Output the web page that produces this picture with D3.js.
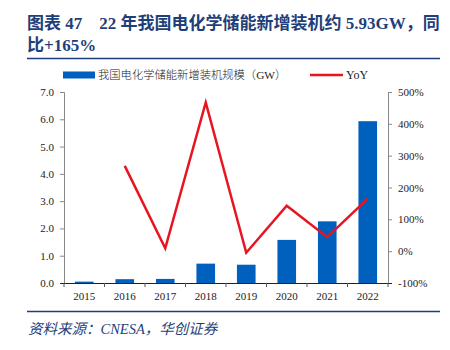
<!DOCTYPE html>
<html><head><meta charset="utf-8">
<script src="https://cdn.jsdelivr.net/npm/d3@7"></script>
<style>
html,body{margin:0;padding:0;background:#fff;}
svg{display:block;}
text{font-family:"Liberation Serif","Noto Sans CJK SC",serif;}
</style></head>
<body>
<svg id="c" width="450" height="350"></svg>
<script>
const years = ["2015","2016","2017","2018","2019","2020","2021","2022"];
const capacity = [0.05,0.14,0.15,0.71,0.67,1.58,2.26,5.93];
const yoy = [null,268,9,467,-5,143,44,165];
const leftTicks = [0,1,2,3,4,5,6,7];
const rightTicks = [-100,0,100,200,300,400,500];
const titleLines = ["图表 47\u00a0\u00a0\u00a0\u00a022 年我国电化学储能新增装机约 5.93GW，同","比+165%"];
const legendLabels = ["我国电化学储能新增装机规模（GW）","YoY"];
const sourceText = "资料来源：CNESA，华创证券";

const svg = d3.select("#c");
const navy = "#1f3f7a";
const barColor = "#0060bd";
const lineColor = "#e8141f";

// title
svg.selectAll("text.title").data(titleLines).enter().append("text")
  .attr("x",27).attr("y",(d,i)=>29+i*22)
  .attr("font-size",17).attr("font-weight","bold").attr("fill",navy)
  .attr("font-family","'Liberation Serif','Noto Sans CJK SC',serif")
  .text(d=>d);
svg.append("line").attr("x1",27).attr("x2",440).attr("y1",58.5).attr("y2",58.5)
  .attr("stroke",navy).attr("stroke-width",1.5);

const x = d3.scaleBand().domain(years).range([64,388]).paddingInner(0.54).paddingOuter(0.27);
const yL = d3.scaleLinear().domain([0,7]).range([283,92]);
const yR = d3.scaleLinear().domain([-100,500]).range([283,92]);

// bars
svg.selectAll("rect.bar").data(capacity).enter().append("rect")
  .attr("x",(d,i)=>x(years[i])).attr("width",x.bandwidth())
  .attr("y",d=>yL(d)).attr("height",d=>yL(0)-yL(d))
  .attr("fill",barColor);

// left axis
const axL = svg.append("g").attr("transform","translate(64,0)")
  .call(d3.axisLeft(yL).tickValues(leftTicks).tickFormat(d3.format(".1f")).tickSize(4).tickPadding(6));
axL.select(".domain").attr("stroke","#888");
axL.selectAll(".tick line").attr("stroke","#888");
axL.selectAll("text").attr("font-size",11).attr("fill","#222").attr("font-family","'Liberation Serif',serif");

// right axis
const axR = svg.append("g").attr("transform","translate(388,0)")
  .call(d3.axisRight(yR).tickValues(rightTicks).tickFormat(d=>d+"%").tickSize(4).tickPadding(6));
axR.select(".domain").attr("stroke","#888");
axR.selectAll(".tick line").attr("stroke","#888");
axR.selectAll("text").attr("font-size",11).attr("fill","#222").attr("font-family","'Liberation Serif',serif");

// bottom axis
const xb = svg.append("g").attr("transform","translate(0,283)")
  .call(d3.axisBottom(x).tickSize(0).tickPadding(9));
xb.select(".domain").attr("stroke","#222").attr("d","M60,0.5H392");
xb.selectAll("text").attr("font-size",11).attr("fill","#222").attr("font-family","'Liberation Serif',serif");
const step = x.step();
svg.selectAll("line.xt").data(d3.range(years.length+1)).enter().append("line")
  .attr("x1",i=>64+i*step).attr("x2",i=>64+i*step).attr("y1",283).attr("y2",287)
  .attr("stroke","#555");

// line
const pts = years.map((y,i)=>({y,v:yoy[i]})).filter(d=>d.v!==null);
svg.append("path").datum(pts)
  .attr("d",d3.line().x(d=>x(d.y)+x.bandwidth()/2).y(d=>yR(d.v)))
  .attr("fill","none").attr("stroke",lineColor).attr("stroke-width",2.5).attr("stroke-linejoin","miter");

// legend
svg.append("rect").attr("x",63).attr("y",71.5).attr("width",32).attr("height",7).attr("fill",barColor);
svg.append("text").attr("x",98).attr("y",79).attr("font-size",11.3).attr("fill","#222")
  .attr("font-family","'Noto Sans CJK SC',sans-serif").attr("font-weight",300).text(legendLabels[0]);
svg.append("line").attr("x1",310).attr("x2",343).attr("y1",75).attr("y2",75).attr("stroke",lineColor).attr("stroke-width",2.5);
svg.append("text").attr("x",346).attr("y",79).attr("font-size",12).attr("fill","#222").text(legendLabels[1]);

// source
svg.append("line").attr("x1",27).attr("x2",440).attr("y1",311.5).attr("y2",311.5)
  .attr("stroke",navy).attr("stroke-width",1.5);
svg.append("text").attr("x",28).attr("y",334).attr("font-size",14.5).attr("font-style","italic")
  .attr("fill",navy).text(sourceText);
</script>
</body></html>
